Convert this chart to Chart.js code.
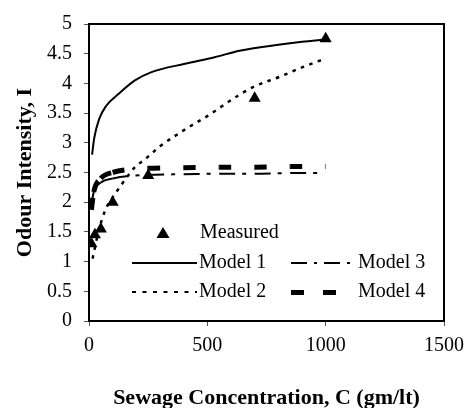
<!DOCTYPE html>
<html>
<head>
<meta charset="utf-8">
<script src="https://cdn.jsdelivr.net/npm/chart.js@4/dist/chart.umd.min.js"></script>
<style>
  html, body { margin: 0; padding: 0; background: #fff; }
  #wrap { width: 472px; height: 408px; }
</style>
</head>
<body>
<div id="wrap"><canvas id="canvas" width="472" height="408"></canvas></div>
<script>
// measured odour intensity
var measuredC = [10, 25, 50, 100, 250, 700, 1000];
var measuredI = [1.3, 1.45, 1.55, 2.0, 2.45, 3.75, 4.75];

// model curves
var model1C = [13, 22, 43, 72, 124, 194, 264, 405, 531, 636, 800, 900, 1000];
var model1I = [2.8, 3.08, 3.4, 3.62, 3.82, 4.05, 4.19, 4.33, 4.44, 4.55, 4.65, 4.7, 4.74];

var model2C = [15, 40, 67, 100, 131, 194, 236, 300, 412, 500, 636, 700, 805, 900, 1000];
var model2I = [1.05, 1.5, 1.85, 2.08, 2.26, 2.59, 2.72, 2.94, 3.24, 3.45, 3.81, 3.95, 4.11, 4.27, 4.42];

var model3C = [10, 20, 50, 100, 250, 400, 550, 700, 850, 1000];
var model3I = [1.95, 2.17, 2.33, 2.4, 2.46, 2.47, 2.48, 2.48, 2.49, 2.49];

var model4C = [10, 20, 50, 100, 250, 400, 550, 700, 850, 1000];
var model4I = [1.87, 2.17, 2.4, 2.5, 2.57, 2.58, 2.59, 2.59, 2.6, 2.6];

var xTicks = [0, 500, 1000, 1500];
var yTicks = [0, 0.5, 1, 1.5, 2, 2.5, 3, 3.5, 4, 4.5, 5];

function pts(cs, is) {
    var out = [];
    for (var i = 0; i < cs.length; i++) {
        out.push({x: cs[i], y: is[i]});
    }
    return out;
}

var serif = "'Liberation Serif', 'DejaVu Serif', serif";

// frame + legend drawn like the original (3 rows, 2 columns)
var legendPlugin = {
    id: 'oddLegend',
    afterDraw: function (chart) {
        var ctx = chart.ctx;
        var xs = chart.scales.x, ys = chart.scales.y;
        var l = Math.round(xs.getPixelForValue(0)), r = Math.round(xs.getPixelForValue(1500));
        var t = Math.round(ys.getPixelForValue(5)), b = Math.round(ys.getPixelForValue(0));
        ctx.save();
        ctx.setLineDash([]);
        ctx.fillStyle = '#000';
        // plot frame
        ctx.fillRect(l - 1, t - 1, r - l + 2, 2);
        ctx.fillRect(l - 1, b - 1, r - l + 2, 2);
        ctx.fillRect(l - 1, t - 1, 2, b - t + 2);
        ctx.fillRect(r - 1, t - 1, 2, b - t + 2);

        ctx.strokeStyle = '#000';
        ctx.font = "20px " + serif;
        ctx.textBaseline = 'middle';

        // Measured
        ctx.beginPath();
        ctx.moveTo(163, 227);
        ctx.lineTo(169.5, 238);
        ctx.lineTo(156.5, 238);
        ctx.closePath();
        ctx.fill();
        ctx.fillText('Measured', 200, 233);

        // Model 1
        ctx.lineWidth = 2;
        ctx.beginPath(); ctx.moveTo(132, 263); ctx.lineTo(197, 263); ctx.stroke();
        ctx.fillText('Model 1', 199, 263);

        // Model 3
        ctx.setLineDash([16, 7, 3, 7]);
        ctx.beginPath(); ctx.moveTo(291, 263); ctx.lineTo(350, 263); ctx.stroke();
        ctx.fillText('Model 3', 358, 263);

        // Model 2
        ctx.setLineDash([4, 6.5]);
        ctx.beginPath(); ctx.moveTo(132, 292); ctx.lineTo(197, 292); ctx.stroke();
        ctx.setLineDash([]);
        ctx.fillText('Model 2', 199, 292);

        // Model 4
        ctx.fillRect(291, 290, 13, 5);
        ctx.fillRect(323, 290, 13, 5);
        ctx.fillText('Model 4', 358, 292);
        ctx.restore();
    }
};

// split the line at every point so the dash pattern restarts (like Excel does)
var restartDash = {
    borderDashOffset: function (c) { return (c.p0DataIndex % 2) * 0.001; }
};

var ctx = document.getElementById('canvas').getContext('2d');

var chart = new Chart(ctx, {
    type: 'scatter',
    data: {
        datasets: [
            {
                label: 'Model 3',
                data: pts(model3C, model3I),
                showLine: true,
                borderColor: '#000',
                borderWidth: 2,
                borderDash: [16, 7, 4, 9],
                borderCapStyle: 'butt',
                pointRadius: 0,
                cubicInterpolationMode: 'monotone',
                segment: restartDash
            },
            {
                label: 'Model 4',
                data: pts(model4C, model4I),
                showLine: true,
                borderColor: '#000',
                borderWidth: 5,
                borderDash: [12, 23],
                borderCapStyle: 'butt',
                pointRadius: 0,
                cubicInterpolationMode: 'monotone',
                segment: restartDash
            },
            {
                label: 'Model 2',
                data: pts(model2C, model2I),
                showLine: true,
                borderColor: '#000',
                borderWidth: 2.5,
                borderDash: [3.5, 5.5],
                pointRadius: 0,
                cubicInterpolationMode: 'monotone'
            },
            {
                label: 'Model 1',
                data: pts(model1C, model1I),
                showLine: true,
                borderColor: '#000',
                borderWidth: 2,
                pointRadius: 0,
                cubicInterpolationMode: 'monotone'
            },
            {
                label: 'Measured',
                data: pts(measuredC, measuredI),
                showLine: false,
                pointStyle: 'triangle',
                pointRadius: 7,
                pointBackgroundColor: '#000',
                pointBorderColor: '#000',
                pointBorderWidth: 0
            }
        ]
    },
    options: {
        responsive: false,
        animation: false,
        layout: {padding: {top: 16, right: 27, left: 0, bottom: 0}},
        plugins: {
            legend: {display: false},
            tooltip: {enabled: false}
        },
        scales: {
            x: {
                type: 'linear',
                min: 0,
                max: 1500,
                afterBuildTicks: function (axis) {
                    axis.ticks = xTicks.map(function (v) { return {value: v}; });
                },
                afterFit: function (axis) { axis.height = 87; },
                border: {display: true, color: '#000', width: 1.5},
                grid: {drawOnChartArea: false, color: '#555', lineWidth: 1, tickLength: 5},
                ticks: {
                    color: '#000', padding: 8, font: {family: serif, size: 20},
                    callback: function (v) { return String(v); }
                },
                title: {
                    display: true,
                    text: 'Sewage Concentration, C (gm/lt)',
                    color: '#000',
                    font: {family: serif, size: 22, weight: 'bold'},
                    padding: {top: 0, bottom: -4}
                }
            },
            y: {
                min: 0,
                max: 5,
                afterBuildTicks: function (axis) {
                    axis.ticks = yTicks.map(function (v) { return {value: v}; });
                },
                afterFit: function (axis) { axis.width = 89; },
                border: {display: true, color: '#000', width: 1.5},
                grid: {drawOnChartArea: false, color: '#555', lineWidth: 1, tickLength: 5},
                ticks: {
                    color: '#000', padding: 12, font: {family: serif, size: 20},
                    callback: function (v) { return String(v); }
                },
                title: {
                    display: true,
                    text: 'Odour Intensity, I',
                    color: '#000',
                    font: {family: serif, size: 22, weight: 'bold'},
                    padding: {top: 12, bottom: 0}
                }
            }
        }
    },
    plugins: [legendPlugin]
});
</script>
</body>
</html>
